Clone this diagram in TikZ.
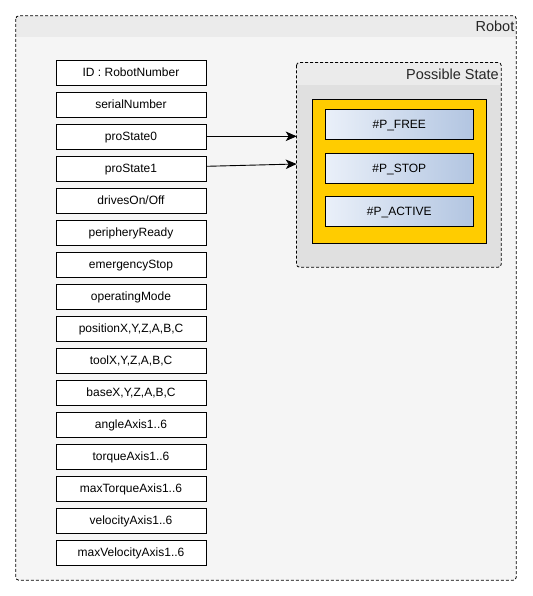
\documentclass[tikz,border=0pt]{standalone}
\usepackage{fontspec}
\setmainfont{Liberation Sans}
\usetikzlibrary{arrows.meta}
\definecolor{outerbody}{HTML}{F5F5F5}
\definecolor{outerhdr}{HTML}{EBEBEB}
\definecolor{psbody}{HTML}{E0E0E0}
\definecolor{pshdr}{HTML}{EBEBEB}
\definecolor{gold}{HTML}{FFCC00}
\definecolor{gradL}{HTML}{EAF0F9}
\definecolor{gradR}{HTML}{B2C5E1}
\tikzset{
  attr/.style={draw=black, line width=0.9pt, fill=white, minimum width=150pt, minimum height=25pt, inner sep=0pt, text height=8.6pt, text depth=0pt, font=\fontsize{12}{14}\selectfont},
  stateitem/.style={draw=black, line width=0.9pt, left color=gradL, right color=gradR, minimum width=148pt, minimum height=30pt, inner sep=0pt, text height=8.6pt, text depth=0pt, font=\fontsize{12}{14}\selectfont},
  dashborder/.style={draw=black, line width=0.8pt, dash pattern=on 3pt off 2pt, rounded corners=3pt},
  hdrlabel/.style={anchor=base east, inner sep=0pt, font=\fontsize{14.5}{17}\selectfont, text=black!85},
  link/.style={draw=black, line width=0.9pt, -{Stealth[length=11pt,width=9.5pt,inset=3pt]}}
}
\begin{document}
\begin{tikzpicture}[x=1pt,y=-1pt]
\useasboundingbox (0,0) rectangle (532,596);
% Robot container
\node[minimum width=500pt, minimum height=564pt, inner sep=0pt] (robot) at (266,298) {};
\begin{scope}
  \clip[rounded corners=3pt] (robot.north west) rectangle (robot.south east);
  \fill[outerbody] (robot.north west) rectangle (robot.south east);
  \fill[outerhdr] (robot.north west) rectangle ([yshift=-21pt]robot.north east);
\end{scope}
\path[dashborder] (robot.north west) rectangle (robot.south east);
\node[hdrlabel] (robotlbl) at (514.5,32) {Robot};
% Possible State container
\node[minimum width=204.3pt, minimum height=204.3pt, inner sep=0pt] (ps) at (398.85,164.85) {};
\begin{scope}
  \clip[rounded corners=3pt] (ps.north west) rectangle (ps.south east);
  \fill[psbody] (ps.north west) rectangle (ps.south east);
  \fill[pshdr] (ps.north west) rectangle ([yshift=-22.3pt]ps.north east);
\end{scope}
\path[dashborder] (ps.north west) rectangle (ps.south east);
\node[hdrlabel] (pslbl) at (499,80) {Possible State};
\node[draw=black, line width=0.9pt, fill=gold, minimum width=174pt, minimum height=144pt, inner sep=0pt] (gbox) at (399.3,171.3) {};
\node[stateitem] (sfree) at (399.3,124.2) {\#P\_FREE};
\node[stateitem] (sstop) at (399.3,168.3) {\#P\_STOP};
\node[stateitem] (sactive) at (399.3,211.3) {\#P\_ACTIVE};
% attributes
\node[attr] (b1) at (131,72.5) {ID : RobotNumber};
\node[attr] (b2) at (131,104.5) {serialNumber};
\node[attr] (b3) at (131,136.5) {proState0};
\node[attr] (b4) at (131,168.5) {proState1};
\node[attr] (b5) at (131,200.5) {drivesOn/Off};
\node[attr] (b6) at (131,232.5) {peripheryReady};
\node[attr] (b7) at (131,264.5) {emergencyStop};
\node[attr] (b8) at (131,296.5) {operatingMode};
\node[attr] (b9) at (131,328.5) {positionX,Y,Z,A,B,C};
\node[attr] (b10) at (131,360.5) {toolX,Y,Z,A,B,C};
\node[attr] (b11) at (131,392.5) {baseX,Y,Z,A,B,C};
\node[attr] (b12) at (131,424.5) {angleAxis1..6};
\node[attr] (b13) at (131,456.5) {torqueAxis1..6};
\node[attr] (b14) at (131,488.5) {maxTorqueAxis1..6};
\node[attr] (b15) at (131,520.5) {velocityAxis1..6};
\node[attr] (b16) at (131,552.5) {maxVelocityAxis1..6};
% connectors
\coordinate (e0) at (296.7,136.3);
\coordinate (e1) at (296.7,164);
\draw[link] ([yshift=0.2pt]b3.east) -- (e0);
\draw[link] ([yshift=2.2pt]b4.east) -- (e1);
\end{tikzpicture}
\end{document}
